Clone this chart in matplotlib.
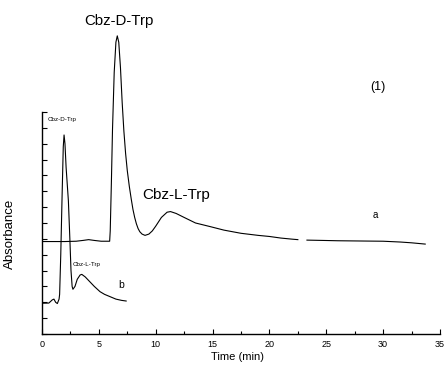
import numpy as np
import matplotlib
matplotlib.use("Agg")
import matplotlib.pyplot as plt

### chromatogram traces (time in min, absorbance arbitrary)
time_a = [0, 1, 2, 3, 3.6, 4.1, 4.6, 5.2, 5.95, 6.0, 6.1, 6.2, 6.35, 6.5, 6.62,
          6.75, 6.9, 7.05, 7.2, 7.35, 7.5, 7.68, 7.85, 8.0, 8.15, 8.3, 8.45, 8.6,
          8.8, 9.06, 9.4, 9.7, 10.0, 10.5, 11.0, 11.3, 11.8, 12.5, 13.5, 14.8,
          16.0, 17.5, 19.0, 20.0, 21.0, 22.0, 22.5, 22.9, 23.3, 24.7, 26.0, 28.6,
          30.0, 31.5, 32.5, 33.7]
abs_a = [5.83, 5.83, 5.83, 5.85, 5.9, 5.95, 5.9, 5.85, 5.85, 6.5, 9.5, 12.9,
         16.5, 18.4, 18.8, 18.4, 16.8, 14.6, 12.8, 11.4, 10.3, 9.3, 8.5, 7.85,
         7.35, 6.95, 6.65, 6.45, 6.3, 6.22, 6.3, 6.5, 6.8, 7.35, 7.68, 7.72, 7.6,
         7.35, 7.0, 6.77, 6.55, 6.35, 6.22, 6.15, 6.05, 5.98, 5.95, np.nan, 5.92,
         5.9, 5.88, 5.86, 5.85, 5.8, 5.75, 5.67]

time_b = [0, 0.6, 0.9, 1.05, 1.2, 1.35, 1.5, 1.55, 1.65, 1.76, 1.87, 1.94, 2.02,
          2.12, 2.32, 2.45, 2.55, 2.65, 2.72, 2.9, 3.1, 3.35, 3.5, 3.8, 4.2, 4.6,
          5.1, 5.5, 6.0, 6.5, 7.0, 7.4]
abs_b = [1.94, 1.95, 2.15, 2.2, 2.0, 1.92, 2.2, 2.5, 5.0, 8.5, 11.8, 12.55, 12.0,
         10.5, 8.4, 6.0, 4.0, 3.0, 2.82, 3.0, 3.45, 3.72, 3.76, 3.6, 3.3, 3.0,
         2.67, 2.5, 2.35, 2.2, 2.12, 2.08]

x_ticks = [0, 5, 10, 15, 20, 25, 30, 35]

plt.rcParams['font.family'] = ['Liberation Sans', 'DejaVu Sans']

fig = plt.figure(figsize=(4.46, 3.72), dpi=100)
ax = fig.add_axes([42 / 446, 38 / 372, 398 / 446, 314 / 372])

ax.plot(time_a, abs_a, color='black', lw=0.8)
ax.plot(time_b, abs_b, color='black', lw=0.8)

ax.set_xlim(0, 35)
ax.set_ylim(0, 19.8)
ax.spines['top'].set_visible(False)
ax.spines['right'].set_visible(False)
ax.spines['left'].set_bounds(0, 14)
ax.spines['left'].set_linewidth(1.0)
ax.spines['bottom'].set_linewidth(1.0)

ax.set_xticks(x_ticks)
ax.set_xticks(np.arange(2.5, 35, 5), minor=True)
ax.set_yticks(np.arange(0, 15, 1))
ax.set_yticklabels([])
ax.tick_params(which='both', direction='in', width=0.8)
ax.tick_params(which='major', length=3.5, labelsize=6.5, pad=4)
ax.tick_params(which='minor', length=2.5)

ax.set_xlabel('Time (min)', fontsize=8)
ax.xaxis.set_label_coords(0.49, -0.058)
ax.set_ylabel('Absorbance', fontsize=9.5)
ax.yaxis.set_label_coords(-0.065, 0.318)

ax.text(6.77, 19.74, 'Cbz-D-Trp', fontsize=10.8, ha='center', va='center')
ax.text(29.55, 15.6, '(1)', fontsize=9, ha='center', va='center')
ax.text(11.78, 8.76, 'Cbz-L-Trp', fontsize=11, ha='center', va='center')
ax.text(29.3, 7.5, 'a', fontsize=7, ha='center', va='center')
ax.text(7.0, 3.1, 'b', fontsize=7.5, ha='center', va='center')
ax.text(1.73, 13.5, 'Cbz-D-Trp', fontsize=4.5, ha='center', va='center')
ax.text(3.96, 4.41, 'Cbz-L-Trp', fontsize=4.5, ha='center', va='center')

fig.savefig('out.png', dpi=100)
